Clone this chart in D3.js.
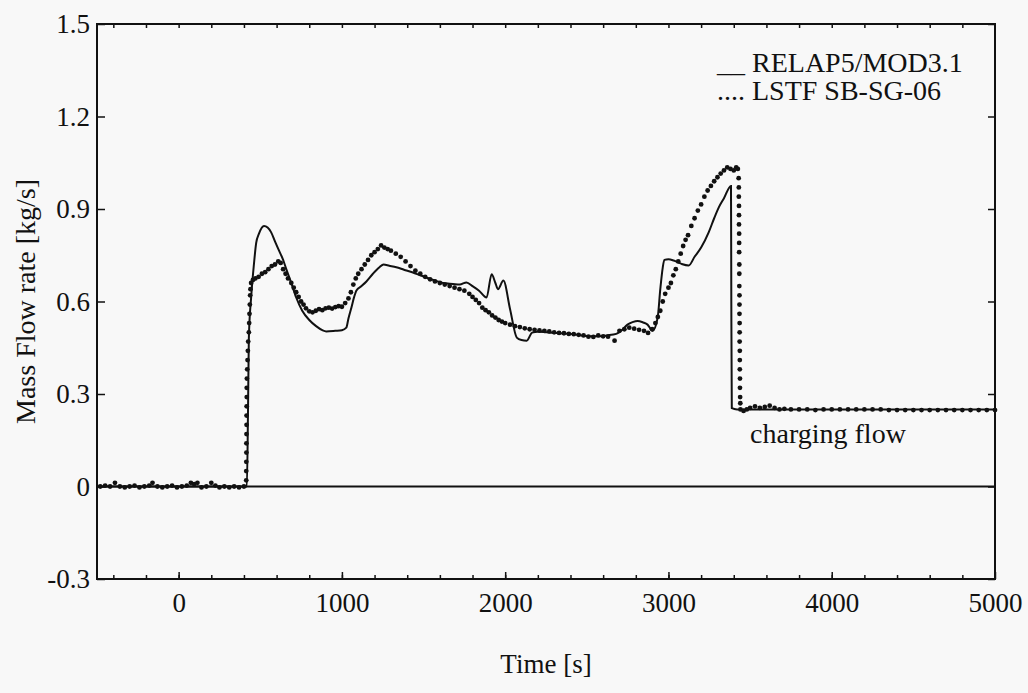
<!DOCTYPE html>
<html>
<head>
<meta charset="utf-8">
<script src="https://cdn.jsdelivr.net/npm/d3@7"></script>
<style>
  body { margin: 0; background: #f8f8f8; }
  svg text { font-family: "Liberation Serif", "Times New Roman", serif; fill: #111; }
</style>
</head>
<body>
<div id="chart"></div>
<script>
// RELAP5 calculation (solid line): [time s, mass flow kg/s]
const relapTime = [-500, 418, 425, 430, 445, 461, 475, 492, 523, 545, 566, 590, 615, 640, 656, 690, 720, 757, 800, 842, 880, 904, 960, 1000, 1027, 1040, 1058, 1075, 1089, 1120, 1150, 1190, 1230, 1255, 1290, 1333, 1380, 1435, 1480, 1517, 1570, 1620, 1680, 1722, 1763, 1800, 1840, 1886, 1917, 1940, 1956, 1989, 2030, 2071, 2100, 2132, 2165, 2200, 2255, 2330, 2400, 2470, 2520, 2580, 2620, 2680, 2710, 2749, 2780, 2811, 2845, 2872, 2903, 2934, 2950, 2965, 2975, 3000, 3032, 3080, 3124, 3160, 3200, 3247, 3280, 3309, 3340, 3383, 3385, 3388, 3420, 3500, 5000];
const relapFlow = [0, 0, 0.25, 0.48, 0.62, 0.72, 0.79, 0.82, 0.845, 0.84, 0.825, 0.795, 0.765, 0.735, 0.71, 0.66, 0.613, 0.57, 0.54, 0.52, 0.507, 0.503, 0.505, 0.507, 0.515, 0.545, 0.58, 0.615, 0.636, 0.65, 0.665, 0.69, 0.711, 0.72, 0.716, 0.711, 0.703, 0.694, 0.685, 0.678, 0.668, 0.66, 0.657, 0.655, 0.662, 0.65, 0.635, 0.613, 0.688, 0.66, 0.64, 0.668, 0.575, 0.483, 0.475, 0.473, 0.499, 0.502, 0.5, 0.497, 0.495, 0.49, 0.487, 0.487, 0.49, 0.495, 0.505, 0.525, 0.533, 0.537, 0.532, 0.525, 0.505, 0.548, 0.64, 0.71, 0.735, 0.737, 0.733, 0.722, 0.717, 0.745, 0.775, 0.825, 0.87, 0.906, 0.935, 0.975, 0.6, 0.254, 0.25, 0.25, 0.25];

// LSTF SB-SG-06 experiment (dots)
const lstfTime = [-480, -450, -420, -390, -360, -330, -300, -270, -240, -210, -180, -160, -130, -100, -70, -40, -10, 20, 50, 75, 95, 115, 140, 170, 200, 225, 250, 280, 310, 340, 370, 400,
  414, 414, 414.5, 415, 415, 415.5, 416, 416, 416.5, 417, 417, 418, 420, 422, 424, 426, 430, 432, 434, 436, 438, 440, 444, 455,
  470, 490, 510, 530, 550, 570, 590, 610, 625, 640, 655, 670, 690, 705, 720, 735, 750, 765, 780, 800, 820, 840, 860, 880, 900, 920, 940, 960, 980, 1000,
  1020, 1040, 1055, 1070, 1085, 1100, 1120, 1140, 1160, 1180, 1200, 1220, 1240, 1260, 1280, 1300, 1330, 1360, 1390, 1420, 1450, 1480, 1510, 1540, 1570, 1600,
  1630, 1660, 1690, 1720, 1750, 1780, 1800, 1820, 1840, 1860, 1880, 1900, 1920, 1940, 1960, 1980, 2000, 2030, 2060, 2090, 2120, 2150, 2180, 2210, 2240, 2270,
  2300, 2330, 2360, 2390, 2420, 2450, 2480, 2510, 2540, 2570, 2600, 2630, 2670, 2700, 2730, 2760, 2790, 2820, 2850, 2875, 2900, 2920, 2935, 2950, 2965, 2980,
  3000, 3015, 3030, 3045, 3060, 3075, 3090, 3105, 3120, 3140, 3160, 3180, 3200, 3220, 3240, 3260, 3280, 3300, 3320, 3340, 3360, 3380, 3400, 3415, 3425,
  3430, 3431, 3431, 3432, 3432, 3432, 3433, 3433, 3433, 3434, 3434, 3434, 3435, 3435, 3435, 3436, 3436, 3436, 3437, 3437, 3437, 3438, 3438, 3439, 3440, 3441,
  3460, 3480, 3500, 3530, 3560, 3590, 3620, 3650, 3680, 3710, 3750, 3800, 3850, 3900, 3950, 4000, 4050, 4100, 4150, 4200, 4250, 4300, 4350, 4400, 4450, 4500,
  4550, 4600, 4650, 4700, 4750, 4800, 4850, 4900, 4950, 5000];
const lstfFlow = [0, 0.003, 0, 0.012, 0, -0.003, 0, 0.003, -0.003, 0, 0.003, 0.012, 0, -0.003, 0, 0.003, -0.003, 0, 0.003, 0.012, 0.008, 0.012, -0.003, 0, 0.012, 0.003, -0.003, 0, -0.003, 0, -0.003, 0,
  0.02, 0.05, 0.08, 0.11, 0.14, 0.17, 0.2, 0.23, 0.26, 0.29, 0.32, 0.35, 0.38, 0.41, 0.44, 0.47, 0.5, 0.53, 0.56, 0.59, 0.62, 0.64, 0.66, 0.67,
  0.675, 0.68, 0.69, 0.695, 0.705, 0.715, 0.72, 0.73, 0.725, 0.705, 0.69, 0.675, 0.66, 0.645, 0.63, 0.615, 0.6, 0.59, 0.578, 0.568, 0.565, 0.57, 0.575, 0.572, 0.578, 0.58, 0.577, 0.582, 0.585, 0.583,
  0.595, 0.61, 0.63, 0.655, 0.675, 0.69, 0.705, 0.72, 0.735, 0.75, 0.76, 0.77, 0.782, 0.775, 0.77, 0.765, 0.755, 0.745, 0.73, 0.715, 0.7, 0.69, 0.68, 0.672, 0.665, 0.66,
  0.655, 0.65, 0.645, 0.64, 0.635, 0.625, 0.615, 0.605, 0.595, 0.58, 0.572, 0.565, 0.555, 0.548, 0.54, 0.535, 0.53, 0.525, 0.52, 0.517, 0.513, 0.51, 0.508, 0.506, 0.505, 0.503,
  0.5, 0.498, 0.497, 0.495, 0.494, 0.492, 0.49, 0.486, 0.485, 0.49, 0.487, 0.486, 0.473, 0.505, 0.51, 0.515, 0.512, 0.508, 0.505, 0.498, 0.51, 0.53, 0.55, 0.57, 0.6, 0.625,
  0.645, 0.66, 0.685, 0.705, 0.73, 0.755, 0.78, 0.8, 0.815, 0.845, 0.87, 0.895, 0.915, 0.94, 0.96, 0.975, 0.99, 1.003, 1.015, 1.025, 1.035, 1.03, 1.025, 1.035, 1.03,
  1.0, 0.97, 0.94, 0.91, 0.88, 0.85, 0.82, 0.79, 0.76, 0.72, 0.69, 0.65, 0.62, 0.59, 0.56, 0.53, 0.5, 0.47, 0.44, 0.41, 0.38, 0.35, 0.32, 0.29, 0.27, 0.25,
  0.245, 0.25, 0.255, 0.26, 0.255, 0.258, 0.262, 0.255, 0.25, 0.252, 0.25, 0.25, 0.25, 0.248, 0.25, 0.25, 0.25, 0.25, 0.25, 0.25, 0.25, 0.25, 0.248, 0.248, 0.248, 0.248,
  0.248, 0.248, 0.248, 0.248, 0.248, 0.248, 0.248, 0.248, 0.248, 0.248];

const xTicks = [0, 1000, 2000, 3000, 4000, 5000];
const yTicks = [-0.3, 0, 0.3, 0.6, 0.9, 1.2, 1.5];
const legendLabels = ["RELAP5/MOD3.1", "LSTF SB-SG-06"];

function createFlowChart(containerId) {
    const margin = { top: 24, right: 33, bottom: 114, left: 97 };
    const width = 1028 - margin.left - margin.right;
    const height = 693 - margin.top - margin.bottom;
    const serif = "Liberation Serif, Times New Roman, serif";

    const svg = d3.select(`#${containerId}`).append("svg")
        .attr("width", 1028)
        .attr("height", 693)
        .append("g")
        .attr("transform", `translate(${margin.left},${margin.top})`);

    const x = d3.scaleLinear().domain([-500, 5000]).range([0, width]);
    const y = d3.scaleLinear().domain([-0.3, 1.5]).range([height, 0]);

    // zero reference line
    svg.append("line")
        .attr("x1", 0).attr("x2", width)
        .attr("y1", y(0)).attr("y2", y(0))
        .attr("stroke", "#111").attr("stroke-width", 2);

    // inward ticks, all four sides
    const minorX = d3.range(-400, 5000, 200);
    const fmt = d => d === 0 ? "0" : d3.format(".1f")(d).replace("\u2212", "-");

    svg.append("g")
        .attr("transform", `translate(0,${height})`)
        .call(d3.axisBottom(x).tickValues(xTicks).tickSize(-7).tickPadding(14).tickFormat(d3.format("d")))
        .call(g => g.select(".domain").remove());
    svg.append("g")
        .attr("transform", `translate(0,${height})`)
        .call(d3.axisBottom(x).tickValues(minorX).tickSize(-4).tickFormat(""))
        .call(g => g.select(".domain").remove());
    svg.append("g")
        .call(d3.axisTop(x).tickValues(minorX).tickSize(-4).tickFormat(""))
        .call(g => g.select(".domain").remove());
    svg.append("g")
        .call(d3.axisLeft(y).tickValues(yTicks).tickSize(-8).tickPadding(7).tickFormat(fmt))
        .call(g => g.select(".domain").remove());
    svg.append("g")
        .attr("transform", `translate(${width},0)`)
        .call(d3.axisRight(y).tickValues(yTicks).tickSize(-7).tickFormat(""))
        .call(g => g.select(".domain").remove());

    svg.selectAll(".tick line").attr("stroke", "#111").attr("stroke-width", 1.5);
    svg.selectAll(".tick text")
        .attr("font-size", "27px")
        .attr("font-family", serif)
        .attr("fill", "#111");

    // frame
    svg.append("rect")
        .attr("width", width).attr("height", height)
        .attr("fill", "none").attr("stroke", "#111").attr("stroke-width", 2);

    // RELAP5 solid line
    const relap = relapTime.map((t, i) => [t, relapFlow[i]]);
    svg.append("path")
        .datum(relap)
        .attr("d", d3.line().x(d => x(d[0])).y(d => y(d[1])).curve(d3.curveMonotoneX))
        .attr("fill", "none")
        .attr("stroke", "#111")
        .attr("stroke-width", 2);

    // LSTF dots
    const lstf = lstfTime.map((t, i) => [t, lstfFlow[i]]);
    svg.selectAll(".lstf-dot")
        .data(lstf)
        .enter().append("circle")
        .attr("class", "lstf-dot")
        .attr("cx", d => x(d[0]))
        .attr("cy", d => y(d[1]))
        .attr("r", 2.4)
        .attr("fill", "#111");

    // legend
    const legend = svg.append("g")
        .attr("font-size", "28px")
        .attr("font-family", serif);
    legend.append("text").attr("x", 620).attr("y", 48).text("__ " + legendLabels[0]);
    legend.append("text").attr("x", 620).attr("y", 76).text(".... " + legendLabels[1]);

    svg.append("text")
        .attr("x", x(3500))
        .attr("y", y(0.14))
        .attr("font-size", "28px")
        .attr("font-family", serif)
        .text("charging flow");

    // axis labels
    svg.append("text")
        .attr("transform", "rotate(-90)")
        .attr("x", -(y(0.6)))
        .attr("y", -62)
        .attr("text-anchor", "middle")
        .attr("font-size", "28px")
        .attr("font-family", serif)
        .text("Mass Flow rate [kg/s]");

    svg.append("text")
        .attr("x", width / 2)
        .attr("y", height + 94)
        .attr("text-anchor", "middle")
        .attr("font-size", "27px")
        .attr("font-family", serif)
        .text("Time [s]");
}

createFlowChart("chart");
</script>
</body>
</html>
